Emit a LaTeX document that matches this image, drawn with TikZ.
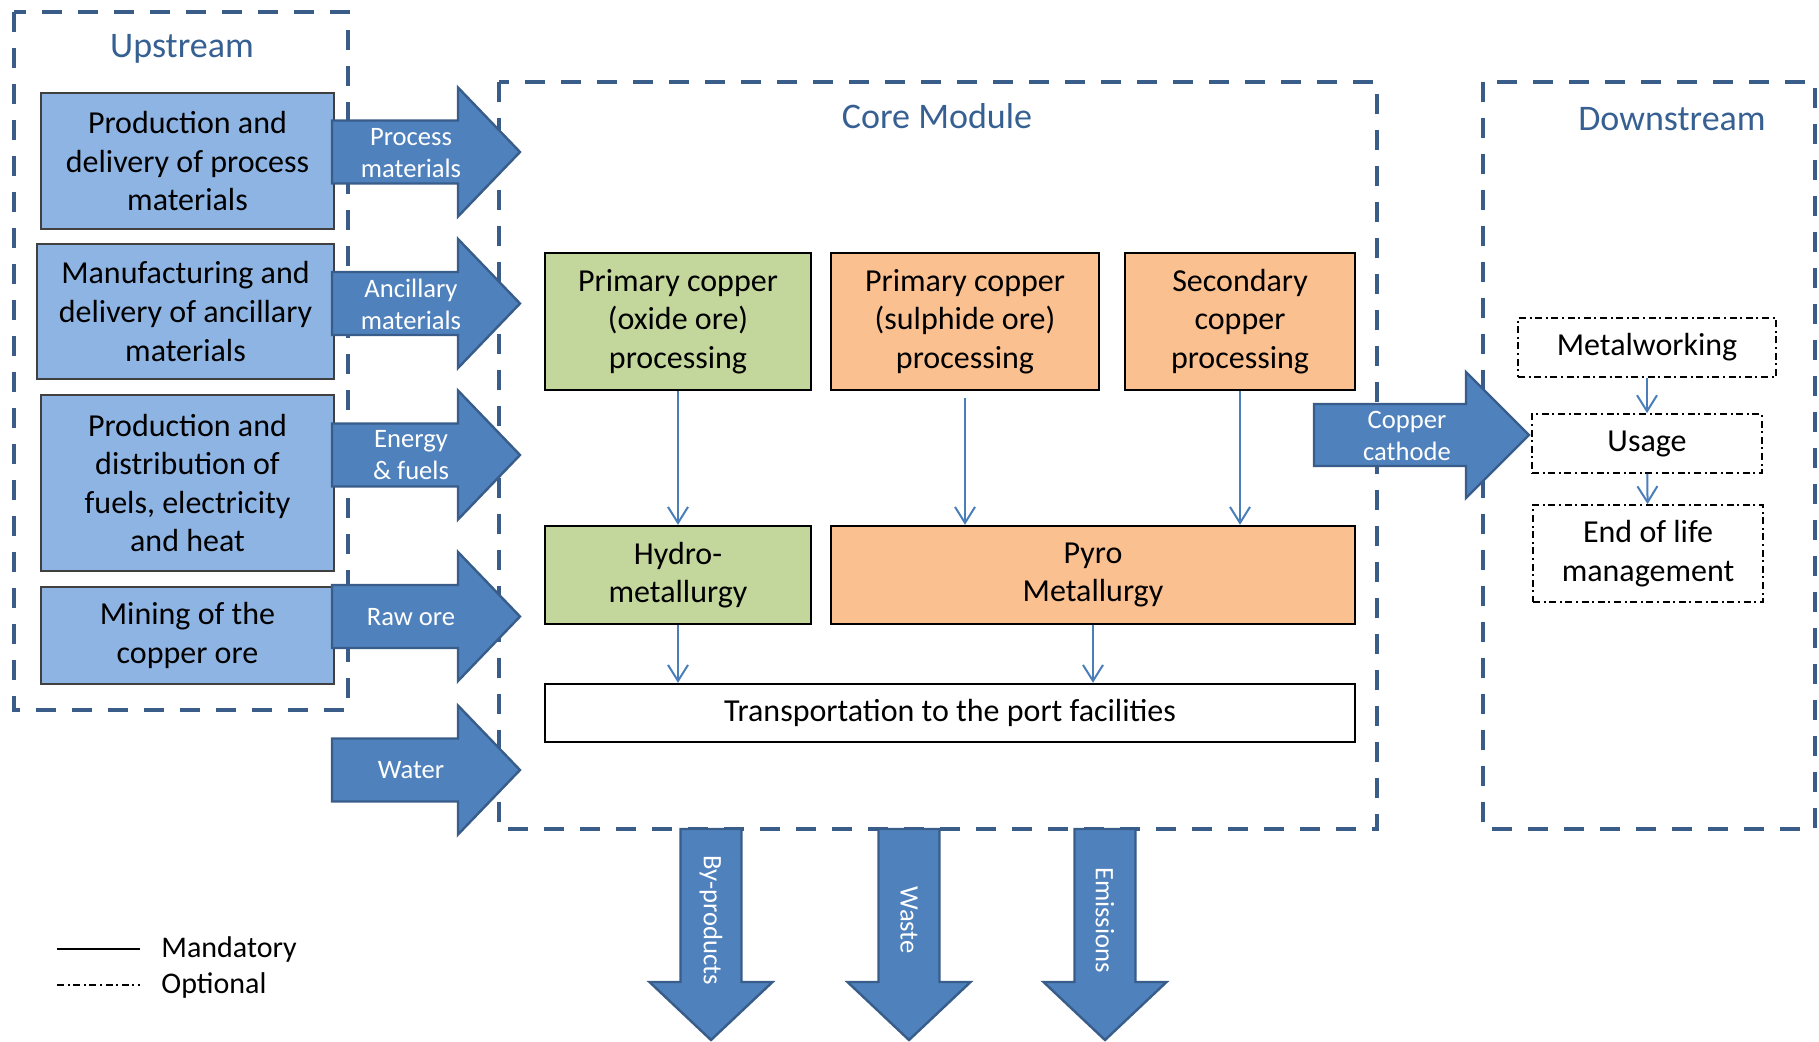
\documentclass[tikz,border=0pt]{standalone}
\usepackage{fontspec}
\setmainfont{Carlito}
\usetikzlibrary{arrows.meta,calc}
\definecolor{UpFill}{RGB}{141,180,227}
\definecolor{UpBorder}{RGB}{64,64,64}
\definecolor{GreenFill}{RGB}{195,214,155}
\definecolor{OrangeFill}{RGB}{250,192,144}
\definecolor{ArrowFill}{RGB}{79,129,189}
\definecolor{ArrowBorder}{RGB}{56,93,138}
\definecolor{FrameBlue}{RGB}{58,92,137}
\definecolor{TitleBlue}{RGB}{55,96,146}
\definecolor{FlowBlue}{RGB}{74,126,187}
\newcommand{\boxfnt}{\fontsize{16}{19.3}\selectfont}
\newcommand{\legfnt}{\fontsize{15}{18}\selectfont}
\newcommand{\arrfnt}{\fontsize{13.3}{16}\selectfont}
\newcommand{\ttlfnt}{\fontsize{18}{21}\selectfont}

\begin{document}
\begin{tikzpicture}[x=0.5pt, y=-0.5pt,
    upbox/.style={draw=UpBorder, fill=UpFill, line width=1pt, align=center, inner sep=0pt, font=\boxfnt},
    corebox/.style={draw=black, line width=1.2pt, align=center, inner sep=0pt, font=\boxfnt},
    optbox/.style={draw=black, line width=0.9pt, dash pattern=on 3.5pt off 1.8pt on 1pt off 1.8pt, align=center, inner sep=0pt, font=\boxfnt},
    frame/.style={draw=FrameBlue, line width=2pt, dash pattern=on 10pt off 8pt},
    bigarrow/.style={fill=ArrowFill, draw=ArrowBorder, line width=1.2pt},
    arrowtext/.style={text=white, align=center, inner sep=0pt, font=\arrfnt},
    flow/.style={draw=FlowBlue, line width=1pt, -{Straight Barb[length=8pt,width=10pt]}},
    title/.style={text=TitleBlue, inner sep=0pt, font=\ttlfnt}]
    \useasboundingbox (0,0) rectangle (1819,1041);
    %%Frames
    \draw[frame] (14,12) rectangle (348,710);
    \draw[frame] (499,82) rectangle (1377,829);
    \draw[frame] (1483,82) rectangle (1815,829);
    \node[title] (upttl) at (182,49) {Upstream};
    \node[title] (corettl) at (937,116) {Core Module};
    \node[title] (downttl) at (1672,119) {Downstream};
    %%Upstream
    \node[upbox, minimum width=146.5pt, minimum height=68pt] (prodproc) at (187.5,161) {Production and\\delivery of process\\materials};
    \node[upbox, minimum width=148.5pt, minimum height=67.5pt] (manuf) at (185.5,311.5) {Manufacturing and\\delivery of ancillary\\materials};
    \node[upbox, minimum width=146.5pt, minimum height=88pt] (fuels) at (187.5,483) {Production and\\distribution of\\fuels, electricity\\and heat};
    \node[upbox, minimum width=146.5pt, minimum height=48.5pt] (mining) at (187.5,635.5) {Mining of the\\copper ore};
    %%Inputs
    \draw[bigarrow] (332,120.5) -- (458,120.5) -- (458,87.5) -- (520,152) -- (458,216.5) -- (458,183.5) -- (332,183.5) -- cycle;
    \draw[bigarrow] (332,272) -- (458,272) -- (458,239) -- (520,303.5) -- (458,368) -- (458,335) -- (332,335) -- cycle;
    \draw[bigarrow] (332,423.5) -- (458,423.5) -- (458,390.5) -- (520,455) -- (458,519.5) -- (458,486.5) -- (332,486.5) -- cycle;
    \draw[bigarrow] (332,585) -- (458,585) -- (458,552) -- (520,616.5) -- (458,681) -- (458,648) -- (332,648) -- cycle;
    \draw[bigarrow] (332,738.5) -- (458,738.5) -- (458,705.5) -- (520,770) -- (458,834.5) -- (458,801.5) -- (332,801.5) -- cycle;
    \node[arrowtext] (pmlbl) at (411,153) {Process\\materials};
    \node[arrowtext] (amlbl) at (411,304) {Ancillary\\materials};
    \node[arrowtext] (eflbl) at (411,455) {Energy\\\& fuels};
    \node[arrowtext] (rolbl) at (411,617) {Raw ore};
    \node[arrowtext] (walbl) at (411,770) {Water};
    %%Core module
    \node[corebox, fill=GreenFill, minimum width=133pt, minimum height=68.5pt] (oxide) at (678,321.5) {Primary copper\\(oxide ore)\\processing};
    \node[corebox, fill=OrangeFill, minimum width=134pt, minimum height=68.5pt] (sulph) at (965,321.5) {Primary copper\\(sulphide ore)\\processing};
    \node[corebox, fill=OrangeFill, minimum width=115pt, minimum height=68.5pt] (second) at (1240,321.5) {Secondary\\copper\\processing};
    \node[corebox, fill=GreenFill, minimum width=133pt, minimum height=49pt] (hydro) at (678,575) {Hydro-\\metallurgy};
    \node[corebox, fill=OrangeFill, minimum width=262pt, minimum height=49pt] (pyro) at (1093,575) {Pyro\\Metallurgy};
    \node[corebox, fill=white, minimum width=405pt, minimum height=29pt] (port) at (950,713) {Transportation to the port facilities};
    \draw[flow] (oxide) -- (oxide |- hydro.north);
    \draw[flow, shorten <=3.5pt] (sulph) -- (sulph |- pyro.north);
    \draw[flow] (second) -- (second |- pyro.north);
    \draw[flow] (hydro) -- (hydro |- port.north);
    \draw[flow] (pyro) -- (pyro |- port.north);
    %%Output to downstream
    \draw[bigarrow] (1314,404) -- (1466,404) -- (1466,372) -- (1529,435) -- (1466,498) -- (1466,466) -- (1314,466) -- cycle;
    \node[arrowtext] (cclbl) at (1407,436) {Copper\\cathode};
    %%Downstream
    \node[optbox, minimum width=129pt, minimum height=29.5pt] (metal) at (1647,347.5) {Metalworking};
    \node[optbox, minimum width=115pt, minimum height=29.5pt] (usage) at (1647,443.5) {Usage};
    \node[optbox, minimum width=115pt, minimum height=48.5pt] (eol) at (1648,553.5) {End of life\\management};
    \draw[flow] (metal) -- (usage);
    \draw[flow] (usage) -- (eol);
    %%Outputs
    \draw[bigarrow] (680.5,829) -- (741.5,829) -- (741.5,982) -- (772.5,982) -- (711,1040) -- (649.5,982) -- (680.5,982) -- cycle;
    \draw[bigarrow] (878.5,829) -- (939.5,829) -- (939.5,982) -- (970.5,982) -- (909,1040) -- (847.5,982) -- (878.5,982) -- cycle;
    \draw[bigarrow] (1074.5,829) -- (1135.5,829) -- (1135.5,982) -- (1166.5,982) -- (1105,1040) -- (1043.5,982) -- (1074.5,982) -- cycle;
    \node[arrowtext, rotate=-90] (bplbl) at (711,920) {By-products};
    \node[arrowtext, rotate=-90] (wslbl) at (909,920) {Waste};
    \node[arrowtext, rotate=-90] (emlbl) at (1105,920) {Emissions};
    %%Legend
    \node[anchor=west, inner sep=0pt, font=\legfnt] (mand) at (161,949) {Mandatory};
    \node[anchor=west, inner sep=0pt, font=\legfnt] (opt) at (161,985) {Optional};
    \draw[line width=1pt] (57,949) -- (140,949);
    \draw[line width=0.9pt, dash pattern=on 3.5pt off 1.8pt on 1pt off 1.8pt] (57,985) -- (140,985);
\end{tikzpicture}
\end{document}
